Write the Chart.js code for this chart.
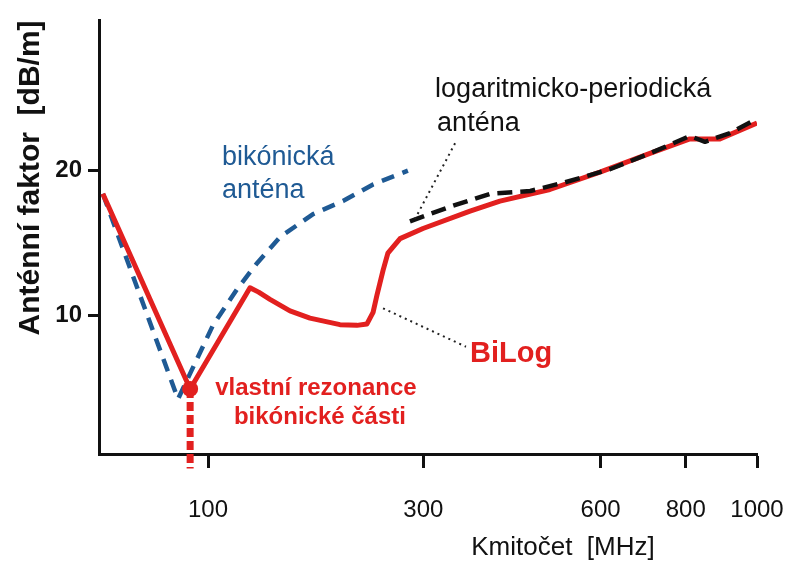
<!DOCTYPE html>
<html>
<head>
<meta charset="utf-8">
<script src="https://cdn.jsdelivr.net/npm/chart.js@4.4.1/dist/chart.umd.min.js"></script>
<style>
  html, body { margin: 0; padding: 0; background: #fff; }
  canvas { display: block; }
</style>
</head>
<body>
<canvas id="chart" width="786" height="563"></canvas>
<script>
// tick values
const xTicks = [100, 300, 600, 800, 1000];   // MHz
const yTicks = [10, 20];                     // dB/m

// BiLog antenna factor
const bilogMHz = [49.4, 89.6, 127.7, 134, 142.6, 158.7, 176, 204.4, 221.8, 232.6, 239.3, 243.7, 250.6, 256.2, 270.7, 299.5, 365.3, 412, 499.2, 598.5, 711, 810.7, 892, 1000];
const bilogDb  = [18.4, 4.9, 11.9, 11.6, 11.1, 10.3, 9.8, 9.35, 9.3, 9.4, 10.2, 11.4, 13.1, 14.3, 15.3, 16.0, 17.2, 17.9, 18.7, 19.9, 21.2, 22.2, 22.2, 23.3];

// biconical antenna
const biconMHz = [49.4, 83.0, 103.0, 118.6, 132.8, 150.4, 178.8, 207.4, 239.3, 280.3];
const biconDb  = [18.4, 4.2, 9.3, 11.8, 13.6, 15.4, 17.0, 17.9, 19.05, 20.0];

// log-periodic antenna
const lpdaMHz = [282.9, 335.9, 396, 463.5, 528, 620, 711, 810.7, 851, 920.6, 1000];
const lpdaDb  = [16.5, 17.5, 18.4, 18.6, 19.2, 20.1, 21.2, 22.4, 22.0, 22.6, 23.6];

// self resonance of the biconical part
const resonanceMHz = 89.6;
const resonanceDb = 4.9;

const FONT = '"Liberation Sans", Arial, sans-serif';
const RED = '#e2201f';
const BLUE = '#1f5a94';
const BLACK = '#111';

// text labels, placed in data units
const notes = [
  { text: 'bikónická', mhz: 108.7, db: 20.9, color: BLUE, size: 27 },
  { text: 'anténa', mhz: 108.7, db: 18.6, color: BLUE, size: 27 },
  { text: 'logaritmicko-periodická', mhz: 315.6, db: 25.65, color: BLACK, size: 27 },
  { text: 'anténa', mhz: 318.3, db: 23.27, color: BLACK, size: 27 },
  { text: 'BiLog', mhz: 365.3, db: 7.35, color: RED, size: 29, bold: true },
  { text: 'vlastní rezonance', mhz: 181.4, db: 4.97, color: RED, size: 24, bold: true, align: 'center' },
  { text: 'bikónické části', mhz: 185.1, db: 2.93, color: RED, size: 24, bold: true, align: 'center' }
];
const leaders = [
  [343.4, 21.9, 289.3, 16.67],
  [250.6, 10.48, 359.3, 7.82]
];

// the source figure uses a compressed frequency axis, roughly a power law
const P = 0.3;
class PowerScale extends Chart.LinearScale {
  getPixelForValue(value) {
    if (value === null || isNaN(value)) return NaN;
    const a = Math.pow(this.min, P), b = Math.pow(this.max, P);
    return this.getPixelForDecimal((Math.pow(value, P) - a) / (b - a));
  }
  getValueForPixel(pixel) {
    const a = Math.pow(this.min, P), b = Math.pow(this.max, P);
    return Math.pow(a + this.getDecimalForPixel(pixel) * (b - a), 1 / P);
  }
}
PowerScale.id = 'power';
PowerScale.defaults = Chart.LinearScale.defaults;
Chart.register(PowerScale);

const pts = (xs, ys) => xs.map((x, i) => ({ x: x, y: ys[i] }));

const notesPlugin = {
  id: 'notes',
  afterDatasetsDraw(chart) {
    const ctx = chart.ctx;
    const sx = chart.scales.x, sy = chart.scales.y;
    ctx.save();
    ctx.strokeStyle = '#222';
    ctx.lineWidth = 2;
    ctx.setLineDash([2, 4]);
    leaders.forEach(l => {
      ctx.beginPath();
      ctx.moveTo(sx.getPixelForValue(l[0]), sy.getPixelForValue(l[1]));
      ctx.lineTo(sx.getPixelForValue(l[2]), sy.getPixelForValue(l[3]));
      ctx.stroke();
    });
    ctx.setLineDash([]);
    ctx.textBaseline = 'middle';
    notes.forEach(n => {
      ctx.font = (n.bold ? 'bold ' : '') + n.size + 'px ' + FONT;
      ctx.fillStyle = n.color;
      ctx.textAlign = n.align || 'left';
      ctx.fillText(n.text, sx.getPixelForValue(n.mhz), sy.getPixelForValue(n.db));
    });
    // x axis title
    ctx.font = '26px ' + FONT;
    ctx.fillStyle = BLACK;
    ctx.textAlign = 'center';
    ctx.fillText('Kmitočet  [MHz]', 563, 548);
    ctx.restore();
  }
};

Chart.defaults.font.family = FONT;

new Chart(document.getElementById('chart'), {
  type: 'line',
  data: {
    datasets: [
      { label: 'logaritmicko-periodická anténa', data: pts(lpdaMHz, lpdaDb), borderColor: BLACK, borderWidth: 4.5, borderDash: [15, 8], order: 0 },
      { label: 'rezonance', data: [{ x: resonanceMHz, y: resonanceDb }], showLine: false, pointRadius: 8, pointBackgroundColor: RED, pointBorderWidth: 0, order: 1 },
      { label: 'rezonance-osa', data: [{ x: resonanceMHz, y: resonanceDb }, { x: resonanceMHz, y: -0.6 }], borderColor: RED, borderWidth: 7, borderDash: [9, 4], clip: false, order: 1 },
      { label: 'BiLog', data: pts(bilogMHz, bilogDb), borderColor: RED, borderWidth: 5, order: 2 },
      { label: 'bikónická anténa', data: pts(biconMHz, biconDb), borderColor: BLUE, borderWidth: 4.5, borderDash: [13, 9], order: 3 }
    ]
  },
  options: {
    responsive: false,
    animation: false,
    layout: { padding: { left: 0, right: 29, top: 13, bottom: 0 } },
    elements: {
      point: { radius: 0 },
      line: { tension: 0, borderCapStyle: 'butt', borderJoinStyle: 'round', fill: false }
    },
    plugins: { legend: { display: false }, tooltip: { enabled: false } },
    scales: {
      x: {
        type: 'power',
        min: 48,
        max: 1000,
        afterBuildTicks: axis => { axis.ticks = xTicks.map(v => ({ value: v })); },
        afterFit: axis => { axis.height = 109; axis.paddingLeft = 0; axis.paddingRight = 0; },
        border: { color: BLACK, width: 3 },
        grid: { drawOnChartArea: false, tickLength: 14, tickWidth: 3, tickColor: BLACK },
        ticks: { color: BLACK, font: { size: 24 }, padding: 28, maxRotation: 0, autoSkip: false, callback: v => String(v) }
      },
      y: {
        min: 0.4,
        max: 30.4,
        afterBuildTicks: axis => { axis.ticks = yTicks.map(v => ({ value: v })); },
        afterFit: axis => { axis.width = 99; },
        border: { color: BLACK, width: 3 },
        grid: { drawOnChartArea: false, tickLength: 11, tickWidth: 3, tickColor: BLACK },
        ticks: { color: BLACK, font: { size: 24, weight: 'bold' }, padding: 6, callback: v => String(v) },
        title: { display: true, text: 'Anténní faktor  [dB/m]', align: 'end', color: BLACK, font: { size: 30, weight: 'bold' }, padding: { top: 13, bottom: 0 } }
      }
    }
  },
  plugins: [notesPlugin]
});
</script>
</body>
</html>
